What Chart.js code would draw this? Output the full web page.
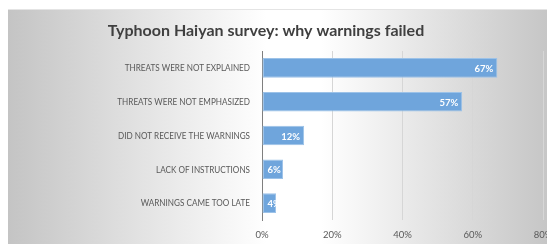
<!DOCTYPE html>
<html>
<head>
<meta charset="utf-8">
<script src="https://cdn.jsdelivr.net/npm/chart.js@4/dist/chart.umd.min.js"></script>
<style>
  html, body { margin: 0; padding: 0; overflow: hidden; background: #fff; width: 547px; height: 244px; }
  #bg { position: absolute; left: 8px; top: 9px; width: 539px; height: 234px;
        border-top: 1px solid #e4e4e4;
        background: linear-gradient(to right, #c4c4c4 0%, #e3e3e3 25%, #ffffff 48%, #ffffff 58%, #e4e4e4 78%, #c6c6c6 100%); }
  #wrap { position: absolute; left: 0; top: 0; width: 580px; height: 244px; }
</style>
</head>
<body>
<div id="bg"></div>
<div id="wrap"><canvas id="c" width="580" height="244"></canvas></div>
<script>
const titleText = "Typhoon Haiyan survey: why warnings failed";
const categories = [
  "THREATS WERE NOT EXPLAINED",
  "THREATS WERE NOT EMPHASIZED",
  "DID NOT RECEIVE THE WARNINGS",
  "LACK OF INSTRUCTIONS",
  "WARNINGS CAME TOO LATE"
];
const values = [67, 57, 12, 6, 4];
const axisTicks = [0, 20, 40, 60, 80];

const titlePlugin = {
  id: 'customTitle',
  afterDraw(chart) {
    const ctx = chart.ctx;
    ctx.save();
    ctx.font = 'bold 16px Lato';
    ctx.fillStyle = '#3f3f3f';
    ctx.textAlign = 'center';
    ctx.textBaseline = 'middle';
    ctx.fillText(titleText, 266, 31);
    ctx.restore();
  }
};

// Condense the category labels horizontally (reference uses a narrow face)
const condensePlugin = {
  id: 'condenseY',
  afterLayout(chart) {
    const sc = chart.scales.y;
    if (sc._condensed) return;
    sc._condensed = true;
    const orig = sc.drawLabels;
    sc.drawLabels = function (area) {
      const ctx = this.ctx;
      const ax = this.right - this.options.ticks.padding;
      ctx.save();
      ctx.translate(ax, 0);
      ctx.scale(0.79, 1);
      ctx.translate(-ax, 0);
      orig.call(this, area);
      ctx.restore();
    };
  }
};

const labelPlugin = {
  id: 'barLabels',
  afterDatasetsDraw(chart) {
    const ctx = chart.ctx;
    const meta = chart.getDatasetMeta(0);
    ctx.save();
    ctx.font = 'bold 9.5px Lato';
    ctx.fillStyle = '#ffffff';
    ctx.textBaseline = 'middle';
    ctx.textAlign = 'left';
    meta.data.forEach((bar, i) => {
      const txt = values[i] + '%';
      const w = ctx.measureText(txt).width;
      const right = Math.max(bar.x - 4, bar.base + 5 + w);
      ctx.fillText(txt, right - w, bar.y + 1);
    });
    ctx.restore();
  }
};

new Chart(document.getElementById('c'), {
  type: 'bar',
  data: {
    labels: categories,
    datasets: [{
      data: values,
      backgroundColor: '#6fa5dc',
      borderColor: '#9cc2e8',
      borderWidth: 1,
      borderSkipped: false,
      categoryPercentage: 1,
      barPercentage: 0.58
    }]
  },
  options: {
    indexAxis: 'y',
    responsive: false,
    animation: false,
    devicePixelRatio: 1,
    layout: { padding: { top: 51, left: 0, right: 37, bottom: 3 } },
    plugins: { legend: { display: false }, tooltip: { enabled: false }, title: { display: false } },
    scales: {
      x: {
        min: 0, max: 80,
        afterBuildTicks(scale) { scale.ticks = axisTicks.map(v => ({ value: v })); },
        afterFit(scale) { scale.paddingRight = 0; scale.paddingLeft = 0; scale.height = 21; },
        ticks: { callback: v => v + '%', color: '#595959', font: { family: 'Lato', size: 9.5 }, padding: 9, maxRotation: 0 },
        grid: { color: '#d6d6d6', drawTicks: false },
        border: { display: false }
      },
      y: {
        afterFit(scale) { scale.width = 262; },
        ticks: { color: '#595959', font: { family: 'Lato', size: 10.3 }, padding: 12 },
        grid: { display: false, drawTicks: false },
        border: { display: true, color: '#7f7f7f', width: 1 }
      }
    }
  },
  plugins: [titlePlugin, condensePlugin, labelPlugin]
});
</script>
</body>
</html>
